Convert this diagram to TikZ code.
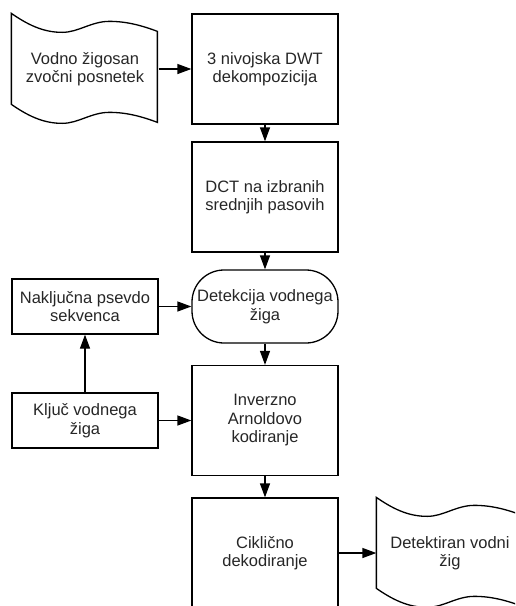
\documentclass[tikz,border=0pt]{standalone}
\usepackage{fontspec}
\setmainfont{Liberation Sans}
\usetikzlibrary{arrows.meta}
\newcommand{\boxwd}{146pt}
\newcommand{\tapeline}{(0,0) .. controls (20,14) and (35,19) .. (51,19) .. controls (67,19) and (80,8) .. (98,8) .. controls (115,8) and (130,12) .. (146,18) -- (146,109) .. controls (130,103) and (115,99) .. (98,99) .. controls (80,99) and (67,110) .. (51,110) .. controls (35,110) and (20,105) .. (0,91) -- cycle}

\begin{document}
\begin{tikzpicture}[x=1pt, y=-1pt, line width=1.3pt,
    font=\fontsize{16.5}{18.5}\selectfont, text=black!85,
    proc/.style={draw, align=center, minimum width=\boxwd, minimum height=110pt, inner sep=0pt},
    small/.style={proc, minimum height=55pt},
    term/.style={proc, minimum height=73pt, rounded corners=32pt},
    tape/.style={align=center, minimum width=\boxwd, minimum height=110pt, inner sep=0pt},
    arr/.style={-{Triangle[length=14pt,width=10pt]}}]

        \clip (0,0) rectangle (515,606);

          % main column
        \node (input) at (85,69) [tape] {Vodno žigosan\\zvočni posnetek};
        \node (dwt) at (265,69) [proc] {3 nivojska DWT\\dekompozicija};
        \node (dct) at (265,197) [proc] {DCT na izbranih\\srednjih pasovih};
        \node (detect) at (265,306.5) [term] {Detekcija vodnega\\žiga};
        \node (arnold) at (265,420.5) [proc] {Inverzno\\Arnoldovo\\kodiranje};
        \node (cyclic) at (265,553) [proc] {Ciklično\\dekodiranje};
        \node (output) at (450,553) [tape] {Detektiran vodni\\žig};

          % key side
        \node (seq) at (85,306.5) [small] {Naključna psevdo\\sekvenca};
        \node (key) at (85,420.5) [small] {Ključ vodnega\\žiga};

        \draw[shift={(input.north west)}] \tapeline;
        \draw[shift={(output.north west)}] \tapeline;

        \draw[arr] (input) to (dwt);
        \draw[arr] (dwt) to (dct);
        \draw[arr] (dct) to (detect);
        \draw[arr] (detect) to (arnold);
        \draw[arr] (arnold) to (cyclic);
        \draw[arr] (cyclic) to (output);
        \draw[arr] (seq) to (detect);
        \draw[arr] (key) to (seq);
        \draw[arr] (key) to (arnold);

        \end{tikzpicture}
\end{document}
